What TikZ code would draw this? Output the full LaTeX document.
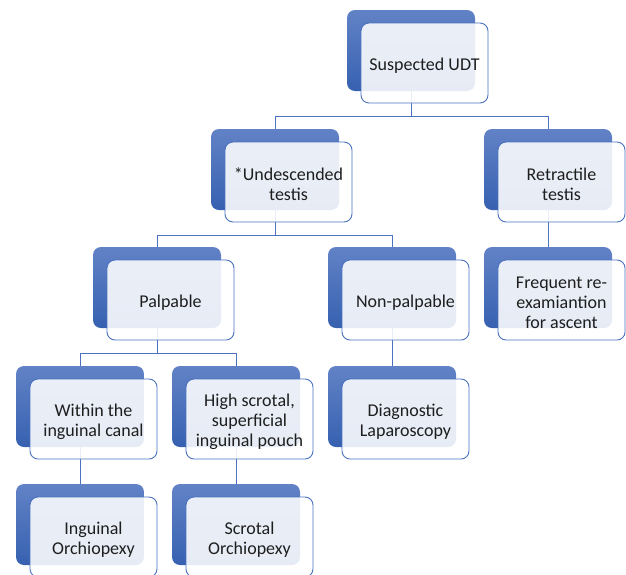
\documentclass[tikz,border=0pt]{standalone}
\usepackage{fontspec}
\setmainfont{Carlito}
\usetikzlibrary{calc}
\definecolor{lineblue}{HTML}{4A72C0}
\definecolor{backtop}{HTML}{6282C6}
\definecolor{backbot}{HTML}{3661B0}
\definecolor{txt}{HTML}{1E1E1E}
\pgfdeclarelayer{bg}
\pgfsetlayers{bg,main}
\tikzset{
  backbox/.style={minimum width=128pt, minimum height=81pt, inner sep=0pt,
    rounded corners=8pt, top color=backtop, bottom color=backbot, draw=none},
  frontbox/.style={minimum width=127pt, minimum height=80pt, inner sep=0pt,
    rounded corners=8pt, draw=lineblue, line width=0.9pt, fill=white,
    fill opacity=0.88},
  boxtext/.style={inner sep=0pt, text=txt, align=center,
    font=\fontsize{18}{20}\selectfont},
  conn/.style={draw=lineblue, line width=0.9pt}
}
% #1 name, #2 x of back-left, #3 y of back-top, #4 text
\newcommand\udtbox[4]{%
  \node[backbox] (#1b) at (#2+64,#3+40.5) {};
  \node[frontbox] (#1) at (#2+77.5,#3+53) {};
  \node[boxtext] (#1t) at (#2+77.5,#3+55.5) {#4};
}
\begin{document}
\begin{tikzpicture}[x=1pt,y=-1pt]
\useasboundingbox (0,0) rectangle (626,574);
\clip (0,0) rectangle (626,574);
\udtbox{S}{347}{10}{Suspected UDT}
\udtbox{U}{211}{129}{*Undescended\\testis}
\udtbox{R}{484}{129}{Retractile\\testis}
\udtbox{P}{93}{247}{Palpable}
\udtbox{N}{328}{247}{Non-palpable}
\udtbox{F}{484}{247}{Frequent re-\\examiantion\\for ascent}
\udtbox{W}{16}{366}{Within the\\inguinal canal}
\udtbox{H}{172}{366}{High scrotal,\\superficial\\inguinal pouch}
\udtbox{D}{328}{366}{Diagnostic\\Laparoscopy}
\udtbox{I}{16}{484}{Inguinal\\Orchiopexy}
\udtbox{C}{172}{484}{Scrotal\\Orchiopexy}
\begin{pgfonlayer}{bg}
  \coordinate (l1) at (0,116.5);
  \coordinate (l2) at (0,235);
  \coordinate (l3) at (0,353);
  \draw[conn] (Sb.center) -- (Sb.center |- l1) -| (Ub.north);
  \draw[conn] (Sb.center |- l1) -| (Rb.north);
  \draw[conn] (Ub.center) -- (Ub.center |- l2) -| (Pb.north);
  \draw[conn] (Ub.center |- l2) -| (Nb.north);
  \draw[conn] (Pb.center) -- (Pb.center |- l3) -| (Wb.north);
  \draw[conn] (Pb.center |- l3) -| (Hb.north);
  \draw[conn] (Rb.center) -- (Fb.north);
  \draw[conn] (Nb.center) -- (Db.north);
  \draw[conn] (Wb.center) -- (Ib.north);
  \draw[conn] (Hb.center) -- (Cb.north);
\end{pgfonlayer}
\end{tikzpicture}
\end{document}
